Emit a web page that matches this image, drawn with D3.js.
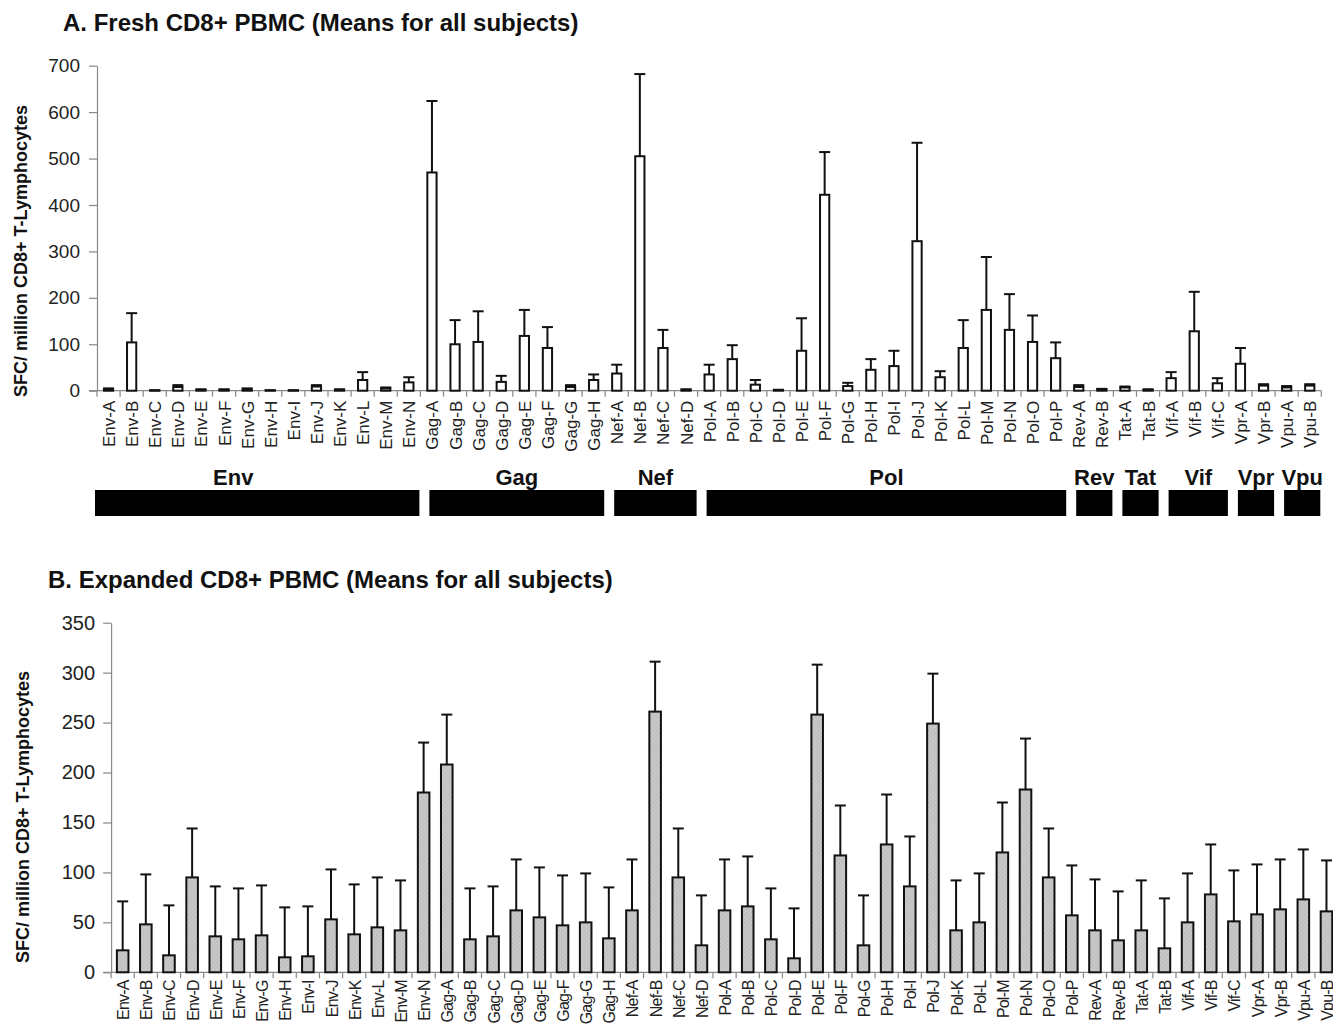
<!DOCTYPE html>
<html><head><meta charset="utf-8">
<script src="https://cdn.jsdelivr.net/npm/d3@7"></script>
<style>body{margin:0;background:#fff} svg{display:block;font-family:Arial,"Liberation Sans",sans-serif}</style>
</head><body>
<svg id="c" width="1333" height="1027"></svg>
<script>
const categories = ["Env-A","Env-B","Env-C","Env-D","Env-E","Env-F","Env-G","Env-H","Env-I","Env-J","Env-K","Env-L","Env-M","Env-N",
  "Gag-A","Gag-B","Gag-C","Gag-D","Gag-E","Gag-F","Gag-G","Gag-H",
  "Nef-A","Nef-B","Nef-C","Nef-D",
  "Pol-A","Pol-B","Pol-C","Pol-D","Pol-E","Pol-F","Pol-G","Pol-H","Pol-I","Pol-J","Pol-K","Pol-L","Pol-M","Pol-N","Pol-O","Pol-P",
  "Rev-A","Rev-B","Tat-A","Tat-B","Vif-A","Vif-B","Vif-C","Vpr-A","Vpr-B","Vpu-A","Vpu-B"];
const groups = ["Env","Gag","Nef","Pol","Rev","Tat","Vif","Vpr","Vpu"];
const groupSizes = [14,8,4,16,2,2,3,2,2];

const freshMean = [3,104,0.5,8,2,2,3,0.5,0.5,9,2,23,5,18,
  470,100,105,19,118,92,8,23,
  37,505,92,2,
  35,68,13,1,86,422,10,45,53,322,29,92,174,131,105,70,
  8,3,7,2,27,128,16,58,11,7,11];
const freshErr = [2,63,0.5,4,1,1,2,0.5,0.5,3,1,17,2,11,
  154,52,66,13,56,45,4,12,
  19,177,39,1,
  21,30,10,1,70,92,7,23,33,212,13,60,114,77,57,34,
  4,1,2,1,13,85,11,34,3,3,3];

const expMean = [22,48,17,95,36,33,37,15,16,53,38,45,42,180,
  208,33,36,62,55,47,50,34,
  62,261,95,27,
  62,66,33,14,258,117,27,128,86,249,42,50,120,183,95,57,
  42,32,42,24,50,78,51,58,63,73,61];
const expErr = [49,50,50,49,50,51,50,50,50,50,50,50,50,50,
  50,51,50,51,50,50,49,51,
  51,50,49,50,
  51,50,51,50,50,50,50,50,50,50,50,49,50,51,49,50,
  51,49,50,50,49,50,51,50,50,50,51];

const yTicksA = [0,100,200,300,400,500,600,700];
const yTicksB = [0,50,100,150,200,250,300,350];

const svg = d3.select("#c");

const defs = svg.append("defs");
const pat = defs.append("pattern").attr("id","hatch").attr("patternUnits","userSpaceOnUse")
  .attr("width",3).attr("height",3).attr("patternTransform","rotate(45)");
pat.append("rect").attr("width",3).attr("height",3).attr("fill","#c9c9c9");
pat.append("line").attr("x1",0).attr("y1",0).attr("x2",0).attr("y2",3).attr("stroke","#ababab").attr("stroke-width",1);

function panel(o){
  const g = svg.append("g");
  const x = d3.scaleBand().domain(categories).range([o.x0,o.x1]).padding(0);
  const y = d3.scaleLinear().domain([0,o.max]).range([o.y0,o.yTop]);
  const bw = x.bandwidth();

  const ya = g.append("g").attr("transform",`translate(${o.x0},0)`)
    .call(d3.axisLeft(y).tickValues(o.ticks).tickSize(8).tickPadding(o.tickPad).tickSizeOuter(0));
  ya.select(".domain").attr("stroke","#888").attr("stroke-width",1.2);
  ya.selectAll(".tick line").attr("stroke","#888").attr("stroke-width",1.2);
  ya.selectAll(".tick text").attr("fill","#222").style("font-size",o.tickFont+"px").attr("font-family","Arial,'Liberation Sans',sans-serif");

  g.append("line").attr("x1",o.x0-8).attr("x2",o.x1).attr("y1",o.y0).attr("y2",o.y0).attr("stroke","#888").attr("stroke-width",1.2);
  const bounds = categories.map(c=>x(c)).concat([x(categories[categories.length-1])+bw]);
  g.selectAll(".bt").data(bounds).join("line").attr("x1",d=>d).attr("x2",d=>d)
    .attr("y1",o.y0).attr("y2",o.y0+6).attr("stroke","#888").attr("stroke-width",1.2);

  const data = categories.map((c,i)=>({c,m:o.mean[i],e:o.err[i]}));
  const w = bw*o.barFrac;
  const eb = g.selectAll(".eb").data(data).join("g");
  eb.append("line").attr("x1",d=>x(d.c)+bw/2).attr("x2",d=>x(d.c)+bw/2)
    .attr("y1",d=>y(d.m)).attr("y2",d=>y(d.m+d.e)).attr("stroke","#111").attr("stroke-width",2);
  eb.append("line").attr("x1",d=>x(d.c)+bw/2-5.5).attr("x2",d=>x(d.c)+bw/2+5.5)
    .attr("y1",d=>y(d.m+d.e)).attr("y2",d=>y(d.m+d.e)).attr("stroke","#111").attr("stroke-width",2);
  g.selectAll(".bar").data(data).join("rect")
    .attr("x",d=>x(d.c)+(bw-w)/2).attr("width",w)
    .attr("y",d=>y(d.m)).attr("height",d=>Math.max(0,o.y0-y(d.m)))
    .attr("fill",o.fill).attr("stroke","#111").attr("stroke-width",2);

  g.selectAll(".xl").data(categories).join("text")
    .attr("transform",d=>`translate(${x(d)+bw/2+1},${o.y0+o.labOff}) rotate(-90)`)
    .attr("text-anchor","end").attr("dominant-baseline","central")
    .attr("fill","#222").style("font-size",o.labFont+"px").attr("letter-spacing",o.labSpacing)
    .text(d=>d);

  g.append("text").attr("transform",`translate(${o.ylx},${o.yly}) rotate(-90)`)
    .attr("text-anchor","middle").attr("dominant-baseline","central")
    .attr("font-weight","bold").style("font-size","18px").attr("fill","#111")
    .text("SFC/ million CD8+ T-Lymphocytes");

  g.append("text").attr("x",o.tx).attr("y",o.ty).attr("font-weight","bold")
    .style("font-size","24px").attr("fill","#111").text(o.title);
  return {x,bw};
}

const A = panel({x0:97,x1:97+53*23.1,y0:390.7,yTop:65.7,max:700,ticks:yTicksA,mean:freshMean,err:freshErr,
  fill:"#fff",barFrac:0.4,tickFont:19,tickPad:9,labFont:17,labOff:10,labSpacing:0,ylx:21,yly:251,
  tx:63,ty:31,title:"A. Fresh CD8+ PBMC (Means for all subjects)"});

panel({x0:111.1,x1:111.1+53*23.15,y0:972.3,yTop:622.7,max:350,ticks:yTicksB,mean:expMean,err:expErr,
  fill:"url(#hatch)",barFrac:0.5,tickFont:20,tickPad:8,labFont:16,labOff:8,labSpacing:-0.8,ylx:23,yly:817,
  tx:48,ty:588,title:"B. Expanded CD8+ PBMC (Means for all subjects)"});

let start = 0;
const gg = svg.append("g");
groups.forEach((name,i)=>{
  const s = categories[start], e = categories[start+groupSizes[i]-1];
  const xs = A.x(s) + (i===0 ? -2 : 9);
  const xe = A.x(e) + A.bw - 1;
  gg.append("rect").attr("x",xs).attr("y",490).attr("width",xe-xs).attr("height",26).attr("fill","#000");
  gg.append("text").attr("x",(xs+xe)/2 + (i===0 ? -24 : 0)).attr("y",485).attr("text-anchor","middle")
    .attr("font-weight","bold").style("font-size","22px").attr("fill","#111").text(name);
  start += groupSizes[i];
});
</script>
</body></html>
